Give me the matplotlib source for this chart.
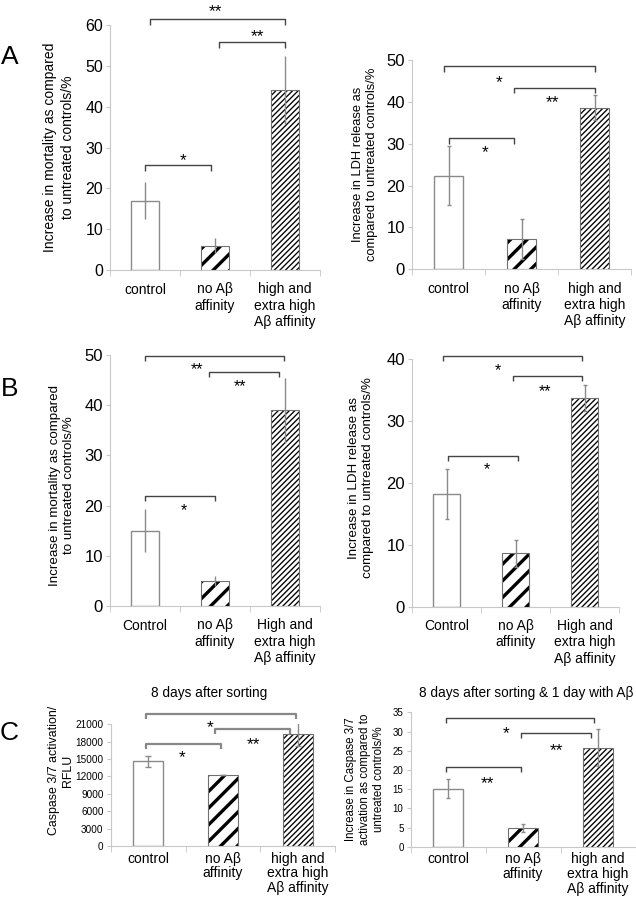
import numpy as np
import matplotlib.pyplot as plt

plt.rcParams['font.family'] = ['Liberation Sans', 'DejaVu Sans']

labels_lower = ['control', 'no Aβ\naffinity', 'high and\nextra high\nAβ affinity']
labels_upper = ['Control', 'no Aβ\naffinity', 'High and\nextra high\nAβ affinity']

# A: mortality and LDH release, % over untreated controls
a_mort = [17, 6, 44]
a_mort_err = [4.5, 1.8, 8.3]
a_ldh = [22.4, 7.2, 38.6]
a_ldh_err = [7.0, 4.8, 3.0]

# B
b_mort = [15, 5, 39]
b_mort_err = [4.3, 1.0, 6.5]
b_ldh = [18.2, 8.6, 33.7]
b_ldh_err = [4.0, 2.2, 2.1]

# C: caspase 3/7
c_rflu = [14600, 12300, 19300]
c_rflu_err = [1000, 0, 2100]
c_casp = [15.1, 4.8, 25.8]
c_casp_err = [2.5, 1.1, 4.8]

W, H = 636, 900
fig = plt.figure(figsize=(W / 100, H / 100), dpi=100)


def px_axes(left, right, top, bottom):
    return fig.add_axes([left / W, 1 - bottom / H, (right - left) / W, (bottom - top) / H])


def set_hatch_lw(patch, lw):
    if hasattr(patch, 'set_hatch_linewidth'):
        patch.set_hatch_linewidth(lw)


def draw_bars(ax, vals, errs, labels, ymax, step, tick_fs, capsize, pad=9, ls=1.2):
    x = np.arange(3)
    ax.bar(x[0], vals[0], 0.4, color='white', edgecolor='#8a8a8a', lw=1, zorder=2)
    with plt.rc_context({'hatch.linewidth': 2.4}):
        b1 = ax.bar(x[1], vals[1], 0.4, color='white', edgecolor='black', hatch='//', lw=0, zorder=2)
    with plt.rc_context({'hatch.linewidth': 0.95}):
        b2 = ax.bar(x[2], vals[2], 0.4, color='white', edgecolor='black', hatch='//////', lw=0, zorder=2)
    set_hatch_lw(b1[0], 2.4)
    set_hatch_lw(b2[0], 0.95)
    ax.bar(x[1:], vals[1:], 0.4, fill=False, edgecolor='#707070', lw=0.8, zorder=3)
    ax.errorbar(x, vals, yerr=errs, fmt='none', ecolor='#8a8a8a', elinewidth=1,
                capsize=capsize, capthick=1, zorder=4)

    ax.set_xlim(-0.5, 2.5)
    ax.set_ylim(0, ymax)
    ax.set_yticks(np.arange(0, ymax + step / 2, step))
    ax.set_xticks(x)
    ax.set_xticklabels(labels, fontsize=10)
    for t in ax.get_xticklabels():
        t.set_linespacing(ls)
    ax.set_xticks([-0.5, 0.5, 1.5, 2.5], minor=True)
    ax.tick_params(axis='x', which='major', length=0, pad=pad)
    ax.tick_params(axis='x', which='minor', length=4, color='#c8c8c8')
    ax.tick_params(axis='y', length=3, color='#c8c8c8', labelsize=tick_fs, pad=2)
    for s in ['top', 'right']:
        ax.spines[s].set_visible(False)
    for s in ['left', 'bottom']:
        ax.spines[s].set_color('#c8c8c8')


def bracket(ax, x0, x1, y, drop, color='#444444', lw=1.0):
    ax.plot([x0, x0, x1, x1], [y - drop, y, y, y - drop], color=color, lw=lw,
            clip_on=False, zorder=5, solid_capstyle='butt')


def star(ax, x, y, s, fs=12.5):
    ax.annotate(s, (x, y), xytext=(0, -0.58 * fs), textcoords='offset points',
                ha='center', va='baseline', fontsize=fs, annotation_clip=False)


def ylabel(ax, text, xpos, fs, ypos=0.5, ls=1.3):
    ax.text(xpos, ypos, text, transform=ax.transAxes, rotation=90, ha='center',
            va='center', fontsize=fs, linespacing=ls, multialignment='center')


# ---- A left
ax = px_axes(110, 320, 25, 270)
draw_bars(ax, a_mort, a_mort_err, labels_lower, 60, 10, 11.5, 0)
bracket(ax, 0.07, 2.0, 61.4, 1.4)
bracket(ax, 1.06, 2.0, 55.8, 1.5)
bracket(ax, 0.0, 0.94, 25.7, 1.5)
star(ax, 1.0, 64.7, '**')
star(ax, 1.6, 58.4, '**')
star(ax, 0.55, 28.2, '*')
ylabel(ax, 'Increase in mortality as compared\nto untreated controls/%', -0.243, 10, ls=1.4)

# ---- A right
ax = px_axes(412, 631, 60, 269.3)
draw_bars(ax, a_ldh, a_ldh_err, labels_lower, 50, 10, 12, 1.5)
bracket(ax, -0.065, 2.0, 48.5, 1.4)
bracket(ax, 0.9, 2.0, 43.4, 1.4)
bracket(ax, 0.0, 0.9, 31.4, 1.4)
star(ax, 0.69, 46.0, '*')
star(ax, 1.42, 41.2, '**')
star(ax, 0.5, 29.3, '*')
ylabel(ax, 'Increase in LDH release as\ncompared to untreated controls/%', -0.215, 9.3)

# ---- B left
ax = px_axes(110, 320, 355, 606)
draw_bars(ax, b_mort, b_mort_err, labels_upper, 50, 10, 12, 0)
bracket(ax, 0.0, 1.99, 49.8, 1.0)
bracket(ax, 0.92, 1.92, 46.7, 1.0)
bracket(ax, 0.0, 1.0, 22.0, 1.0)
star(ax, 0.74, 48.0, '**', 11.5)
star(ax, 1.36, 44.6, '**', 11.5)
star(ax, 0.56, 20.0, '*', 11.5)
ylabel(ax, 'Increase in mortality as compared\nto untreated controls/%', -0.229, 9.6, ypos=0.48)

# ---- B right
ax = px_axes(412, 619, 359, 606.7)
draw_bars(ax, b_ldh, b_ldh_err, labels_upper, 40, 10, 12, 1.5)
bracket(ax, -0.05, 1.97, 40.5, 0.8)
bracket(ax, 0.96, 1.97, 37.3, 0.8)
bracket(ax, 0.02, 1.04, 24.4, 0.8)
star(ax, 0.75, 38.9, '*', 11.5)
star(ax, 1.43, 35.5, '**', 11.5)
star(ax, 0.59, 22.9, '*', 11.5)
ylabel(ax, 'Increase in LDH release as\ncompared to untreated controls/%', -0.246, 9.6, ypos=0.52)

# ---- C left
ax = px_axes(110.5, 335.5, 724.3, 846)
draw_bars(ax, c_rflu, c_rflu_err, labels_lower, 21000, 3000, 7.2, 2, pad=4, ls=1.08)
bracket(ax, -0.03, 1.97, 22700, 860, color='#888888', lw=1.6)
bracket(ax, 0.9, 1.9, 20200, 860, color='#888888', lw=1.6)
bracket(ax, -0.03, 0.98, 17600, 860, color='#888888', lw=1.6)
star(ax, 0.83, 21400, '*')
star(ax, 1.4, 18400, '**')
star(ax, 0.46, 16200, '*')
ylabel(ax, 'Caspase 3/7 activation/\nRFLU', -0.22, 8.9, ypos=0.62)
fig.text(209 / W, 1 - 693.3 / H, '8 days after sorting', ha='center', va='center', fontsize=9.8)

# ---- C right
ax = px_axes(410.5, 635.5, 712.3, 846.7)
draw_bars(ax, c_casp, c_casp_err, labels_lower, 35, 5, 7, 1.5, pad=4, ls=1.08)
bracket(ax, -0.03, 1.95, 33.5, 1.3)
bracket(ax, 0.97, 1.9, 29.7, 1.3)
bracket(ax, -0.03, 0.97, 20.7, 1.3)
star(ax, 0.78, 30.8, '*')
star(ax, 1.45, 26.6, '**')
star(ax, 0.52, 17.8, '**')
ylabel(ax, 'Increase in Caspase 3/7\nactivation as compared to\nuntreated controls/%', -0.202, 8.3, ls=1.2)
fig.text(525.8 / W, 1 - 693.3 / H, '8 days after sorting & 1 day with Aβ', ha='center',
         va='center', fontsize=9.8)

# panel letters
for letter, ypx in [('A', 57.5), ('B', 389), ('C', 732.5)]:
    fig.text(9.5 / W, 1 - ypx / H, letter, ha='center', va='center', fontsize=19)

fig.savefig('out.png', dpi=100)
